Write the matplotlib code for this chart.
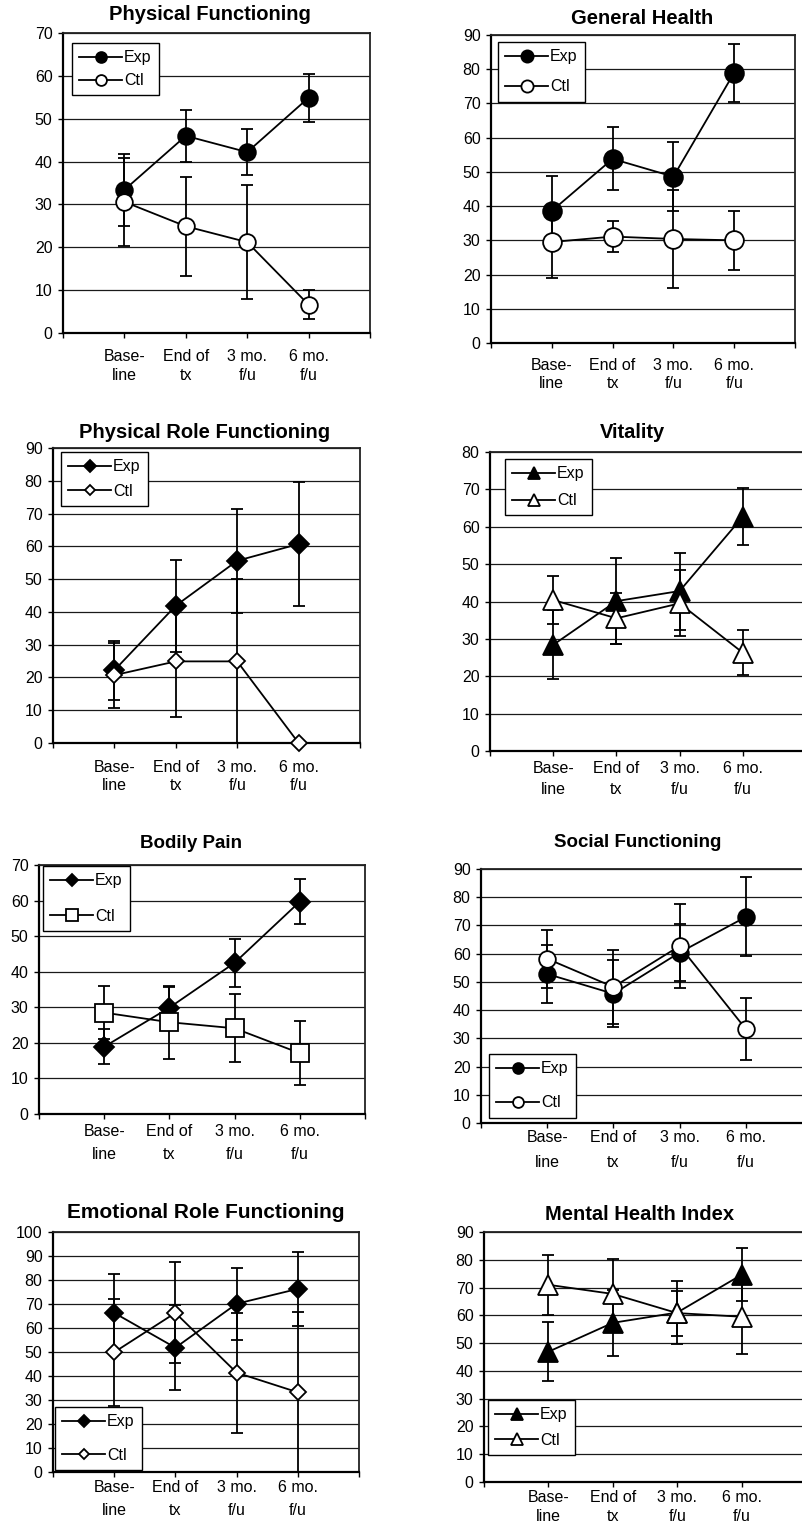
import matplotlib
matplotlib.use('Agg')
import matplotlib.pyplot as plt
from matplotlib import font_manager

W, H, DPI = 802, 1527, 100

categories = ['Base-\nline', 'End of\ntx', '3 mo.\nf/u', '6 mo.\nf/u']
series_names = ['Exp', 'Ctl']

# ---- data (means and +/- error) ----
pf_exp = [33.4, 46.0, 42.2, 54.9]
pf_exp_err = [8.4, 6.0, 5.4, 5.6]
pf_ctl = [30.6, 24.9, 21.2, 6.6]
pf_ctl_err = [10.2, 11.6, 13.3, 3.4]

gh_exp = [38.6, 53.8, 48.6, 79.0]
gh_exp_err = [10.2, 9.2, 10.0, 8.5]
gh_ctl = [29.5, 31.1, 30.4, 30.0]
gh_ctl_err = [10.5, 4.5, 14.4, 8.7]

prf_exp = [22.2, 41.9, 55.6, 60.7]
prf_exp_err = [9.0, 14.0, 15.8, 18.9]
prf_ctl = [20.7, 24.9, 24.9, 0.0]
prf_ctl_err = [9.9, 17.0, 25.0, 0.0]

vit_exp = [28.4, 40.1, 42.8, 62.7]
vit_exp_err = [9.2, 11.5, 10.3, 7.6]
vit_ctl = [40.4, 35.5, 39.5, 26.3]
vit_ctl_err = [6.4, 6.9, 8.8, 6.0]

bp_exp = [18.9, 29.9, 42.5, 59.7]
bp_exp_err = [4.9, 5.9, 6.7, 6.3]
bp_ctl = [28.5, 25.8, 24.1, 17.1]
bp_ctl_err = [7.5, 10.2, 9.5, 9.0]

sf_exp = [52.8, 45.8, 60.4, 73.0]
sf_exp_err = [10.4, 11.9, 10.2, 14.0]
sf_ctl = [58.2, 48.2, 62.7, 33.3]
sf_ctl_err = [10.3, 13.0, 15.0, 10.9]

erf_exp = [66.3, 51.8, 70.1, 76.3]
erf_exp_err = [16.2, 17.8, 15.1, 15.5]
erf_ctl = [49.9, 66.3, 41.4, 33.2]
erf_ctl_err = [22.2, 21.0, 25.0, 33.3]

mh_exp = [46.9, 57.3, 61.0, 74.6]
mh_exp_err = [10.7, 11.8, 11.3, 9.5]
mh_ctl = [71.0, 67.7, 60.8, 59.5]
mh_ctl_err = [10.9, 12.6, 8.1, 13.5]


def has_font(name):
    try:
        font_manager.findfont(font_manager.FontProperties(family=name),
                              fallback_to_default=False)
        return True
    except Exception:
        return False


BASE = 'Liberation Sans' if has_font('Liberation Sans') else 'DejaVu Sans'
NARROW = 'Liberation Sans Narrow' if has_font('Liberation Sans Narrow') else BASE
plt.rcParams['font.family'] = [BASE, 'DejaVu Sans']

fig = plt.figure(figsize=(W / DPI, H / DPI), dpi=DPI)
fig.patch.set_facecolor('white')


def px_rect(l, t, r, b):
    return [l / W, 1 - b / H, (r - l) / W, (b - t) / H]


panels = [
    dict(title='Physical Functioning', exp=pf_exp, exp_err=pf_exp_err, ctl=pf_ctl, ctl_err=pf_ctl_err,
         ymax=70, rect=(63, 33, 370, 333), title_xy=(210, 15), tsize=14.5,
         m_exp='o', m_ctl='o', ms_exp=12, ms_ctl=12, leg=(72, 43), leg_ls=0.5,
         xpad=8, xls=1.35, font=BASE),
    dict(title='General Health', exp=gh_exp, exp_err=gh_exp_err, ctl=gh_ctl, ctl_err=gh_ctl_err,
         ymax=90, rect=(491, 35, 795, 343), title_xy=(642, 19), tsize=14.5,
         m_exp='o', m_ctl='o', ms_exp=13.5, ms_ctl=13.5, leg=(498, 42), leg_ls=0.95,
         xpad=7, xls=1.3, font=BASE),
    dict(title='Physical Role Functioning', exp=prf_exp, exp_err=prf_exp_err, ctl=prf_ctl, ctl_err=prf_ctl_err,
         ymax=90, rect=(53, 448, 360, 743), title_xy=(205, 432), tsize=14.5,
         m_exp='D', m_ctl='D', ms_exp=10, ms_ctl=8, leg=(61, 452), leg_ls=0.6,
         xpad=9, xls=1.25, font=BASE),
    dict(title='Vitality', exp=vit_exp, exp_err=vit_exp_err, ctl=vit_ctl, ctl_err=vit_ctl_err,
         ymax=80, rect=(490, 452, 806, 751), title_xy=(632, 432), tsize=14.5,
         m_exp='^', m_ctl='^', ms_exp=14, ms_ctl=14, leg=(505, 459), leg_ls=0.75,
         xpad=4, xls=1.45, font=BASE),
    dict(title='Bodily Pain', exp=bp_exp, exp_err=bp_exp_err, ctl=bp_ctl, ctl_err=bp_ctl_err,
         ymax=70, rect=(39, 865, 365, 1114), title_xy=(191, 843), tsize=13.5,
         m_exp='D', m_ctl='s', ms_exp=10, ms_ctl=12.5, leg=(43, 866), leg_ls=1.3,
         xpad=3.5, xls=1.7, font=NARROW),
    dict(title='Social Functioning', exp=sf_exp, exp_err=sf_exp_err, ctl=sf_ctl, ctl_err=sf_ctl_err,
         ymax=90, rect=(481, 869, 812, 1123), title_xy=(638, 842), tsize=13.5,
         m_exp='o', m_ctl='o', ms_exp=12, ms_ctl=12, leg=(489, 1054), leg_ls=1.2,
         xpad=1.5, xls=1.8, font=NARROW),
    dict(title='Emotional Role Functioning', exp=erf_exp, exp_err=erf_exp_err, ctl=erf_ctl, ctl_err=erf_ctl_err,
         ymax=100, rect=(53, 1232, 359, 1472), title_xy=(206, 1212), tsize=15,
         m_exp='D', m_ctl='D', ms_exp=9, ms_ctl=8.5, leg=(55, 1407), leg_ls=1.15,
         xpad=2, xls=1.7, font=BASE),
    dict(title='Mental Health Index', exp=mh_exp, exp_err=mh_exp_err, ctl=mh_ctl, ctl_err=mh_ctl_err,
         ymax=90, rect=(484, 1232, 806, 1482), title_xy=(640, 1215), tsize=14.5,
         m_exp='^', m_ctl='^', ms_exp=14, ms_ctl=14, leg=(488, 1400), leg_ls=0.65,
         xpad=2, xls=1.35, font=BASE),
]

xpos = list(range(len(categories)))

for p in panels:
    ax = fig.add_axes(px_rect(*p['rect']))
    fam = [p['font'], 'DejaVu Sans']
    ax.set_xlim(-1, len(categories))
    ax.set_ylim(0, p['ymax'])
    ax.set_yticks(range(0, p['ymax'] + 1, 10))
    ax.set_xticks(range(-1, len(categories) + 1))
    ax.set_xticklabels([''] + categories + [''], fontsize=11.5, family=fam,
                       linespacing=p['xls'])
    for lbl in ax.get_yticklabels():
        lbl.set_fontsize(11.5)
        lbl.set_family(fam)
    ax.tick_params(axis='both', direction='out', length=3.5, width=1, color='black')
    ax.tick_params(axis='y', pad=4)
    ax.tick_params(axis='x', pad=p['xpad'])
    ax.yaxis.grid(True, color='#1a1a1a', linewidth=0.9)
    ax.set_axisbelow(True)
    for side in ['left', 'bottom']:
        ax.spines[side].set_linewidth(1.6)
        ax.spines[side].set_color('black')
    for side in ['top', 'right']:
        ax.spines[side].set_linewidth(1.3)
        ax.spines[side].set_color('#222222')

    handles = []
    for i, (vals, errs, face, mk, ms) in enumerate([
            (p['exp'], p['exp_err'], 'black', p['m_exp'], p['ms_exp']),
            (p['ctl'], p['ctl_err'], 'white', p['m_ctl'], p['ms_ctl'])]):
        z = 3 + 2 * i
        ax.errorbar(xpos, vals, yerr=errs, fmt='none', ecolor='black',
                    elinewidth=1.3, capsize=4.5, capthick=1.3, zorder=z)
        ln, = ax.plot(xpos, vals, color='black', linewidth=1.3, marker=mk,
                      markersize=ms, markerfacecolor=face,
                      markeredgecolor='black', markeredgewidth=1.3,
                      zorder=z + 1, label=series_names[i], clip_on=False)
        handles.append(ln)

    lx, ly = p['leg']
    leg = ax.legend(handles=handles, loc='upper left',
                    bbox_to_anchor=(lx / W, 1 - ly / H),
                    bbox_transform=fig.transFigure, borderaxespad=0,
                    fancybox=False, framealpha=1, edgecolor='black',
                    markerscale=0.65, handlelength=2.7,
                    handletextpad=0.1, labelspacing=p['leg_ls'],
                    borderpad=0.45, prop={'family': fam, 'size': 11.5})
    leg.get_frame().set_linewidth(1.0)
    leg.set_zorder(10)

    fig.text(p['title_xy'][0] / W, 1 - p['title_xy'][1] / H, p['title'],
             ha='center', va='center', fontsize=p['tsize'], fontweight='bold',
             family=fam)

fig.savefig('out.png', dpi=DPI, facecolor='white')
